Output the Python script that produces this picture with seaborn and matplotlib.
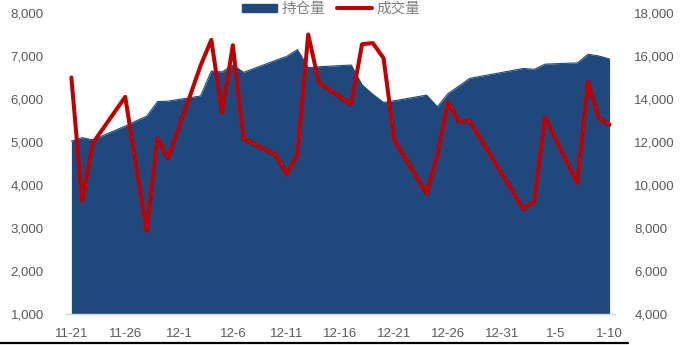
import pandas as pd
import numpy as np
import matplotlib
matplotlib.use('Agg')
import matplotlib.pyplot as plt
from matplotlib.lines import Line2D
from matplotlib.patches import Patch
import seaborn as sns

sns.set_style('white')
plt.rcParams['font.family'] = ['Liberation Sans', 'Noto Sans CJK SC', 'DejaVu Sans']

# 交易日
dates = ['2018-11-21', '2018-11-22', '2018-11-23', '2018-11-26', '2018-11-27',
         '2018-11-28', '2018-11-29', '2018-11-30', '2018-12-03', '2018-12-04',
         '2018-12-05', '2018-12-06', '2018-12-07', '2018-12-10', '2018-12-11',
         '2018-12-12', '2018-12-13', '2018-12-14', '2018-12-17', '2018-12-18',
         '2018-12-19', '2018-12-20', '2018-12-21', '2018-12-24', '2018-12-25',
         '2018-12-26', '2018-12-27', '2018-12-28', '2019-01-02', '2019-01-03',
         '2019-01-04', '2019-01-07', '2019-01-08', '2019-01-09', '2019-01-10']
# 持仓量 (左轴)
open_interest = [5020, 5100, 5050, 5370, 5490, 5600, 5940, 5950, 6070, 6650,
                 6630, 6790, 6620, 6900, 6990, 7150, 6730, 6750, 6790, 6330,
                 6110, 5920, 5960, 6090, 5820, 6130, 6300, 6480, 6710, 6690,
                 6810, 6840, 7040, 7000, 6930]
# 成交量 (右轴)
volume = [15000, 9250, 11950, 14100, 10950, 7850, 12150, 11250, 15550, 16750,
          13350, 16500, 12150, 11400, 10500, 11400, 17000, 14750, 13750, 16550,
          16600, 15900, 12100, 9600, 11400, 13850, 12950, 12980, 8880, 9220,
          13150, 10100, 14800, 13100, 12800]

df = pd.DataFrame({'date': pd.to_datetime(dates), '持仓量': open_interest, '成交量': volume})
start = df['date'].iloc[0]
df['day'] = (df['date'] - start).dt.days
n_days = int(df['day'].iloc[-1])

blue = '#1F497D'
red = '#C00000'
gray = '#595959'

fig = plt.figure(figsize=(6.87, 3.45), dpi=100)
ax = fig.add_axes([66 / 687, 1 - 314 / 345, 549 / 687, 301 / 345])
ax2 = ax.twinx()

# 面积图
ax.fill_between(df['day'], 1000, df['持仓量'], color=blue, linewidth=0)
sns.lineplot(data=df, x='day', y='持仓量', ax=ax, color=blue, linewidth=0.8)
# 折线
sns.lineplot(data=df, x='day', y='成交量', ax=ax2, color=red, linewidth=2.9)

ax.set_xlim(-0.5, n_days + 0.5)
ax.set_ylim(1000, 8000)
ax2.set_ylim(4000, 18000)
ax.set_yticks(range(1000, 8001, 1000))
ax2.set_yticks(range(4000, 18001, 2000))
ax.set_yticklabels([f'{v:,}' for v in range(1000, 8001, 1000)])
ax2.set_yticklabels([f'{v:,}' for v in range(4000, 18001, 2000)])

# x轴: 刻度线在日期边界, 标签在日期中间
label_days = list(range(0, n_days + 1, 5))
ax.set_xticks([d - 0.5 for d in label_days])
ax.set_xticklabels([])
ax.set_xticks(label_days, minor=True)
ax.set_xticklabels([f'{(start + pd.Timedelta(days=d)).month}-{(start + pd.Timedelta(days=d)).day}'
                    for d in label_days], minor=True)
ax.tick_params(axis='x', which='major', length=4, color='#D9D9D9', width=1)
ax.tick_params(axis='x', which='minor', length=0, pad=10, labelsize=9.5, labelcolor=gray)
ax.tick_params(axis='y', length=0, pad=16, labelsize=9.5, labelcolor=gray)
ax2.tick_params(axis='y', length=0, pad=14, labelsize=9.5, labelcolor=gray)

ax.set_xlabel('')
ax.set_ylabel('')
ax2.set_ylabel('')
for s in ['top', 'left', 'right']:
    ax.spines[s].set_visible(False)
    ax2.spines[s].set_visible(False)
ax2.spines['bottom'].set_visible(False)
ax.spines['bottom'].set_color('#D9D9D9')
ax.spines['bottom'].set_linewidth(1)

handles = [Patch(facecolor=blue, edgecolor=blue), Line2D([], [], color=red, linewidth=2.9)]
leg = fig.legend(handles, ['持仓量', '成交量'], loc='center', bbox_to_anchor=(331 / 687, 1 - 9 / 345),
                 ncol=2, frameon=False, handlelength=2.4, handleheight=0.5,
                 columnspacing=0.8, handletextpad=0.3,
                 prop={'family': ['Noto Sans CJK SC', 'DejaVu Sans'], 'size': 10.5, 'weight': 'light'})
for t in leg.get_texts():
    t.set_color('#808080')

# 底部黑线
fig.add_artist(Line2D([0, 628 / 687], [1 - 343 / 345, 1 - 343 / 345], color='black', linewidth=1.6,
                      transform=fig.transFigure))

fig.savefig('out.png', dpi=100)
